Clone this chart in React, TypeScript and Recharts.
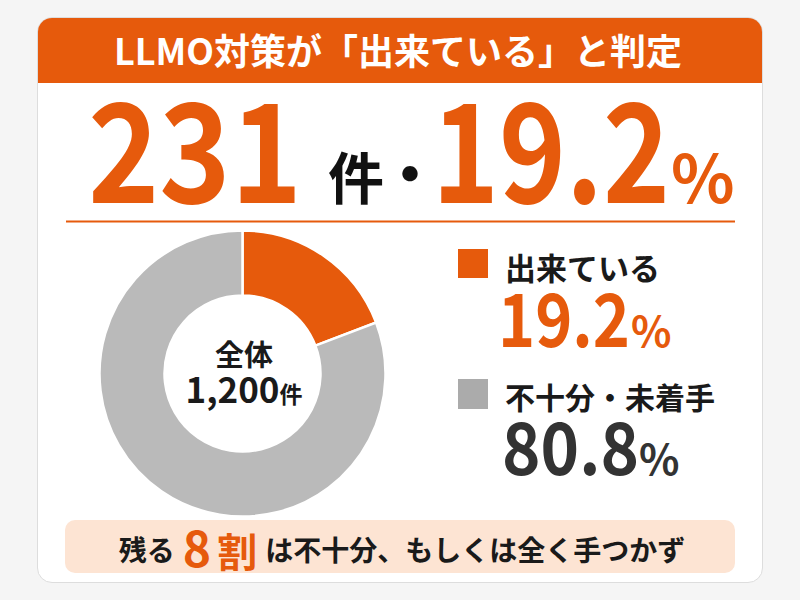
import React from "react";
import { PieChart, Pie, Cell } from "recharts";

const categories = ["出来ている", "不十分・未着手"];
const shares = [19.2, 80.8];
const counts = [231, 969];
const totalCount = 1200;
const colors = ["#E65A0C", "#BABABA"];
const legendColors = ["#E65A0C", "#ABABAB"];
const titleText = "LLMO対策が「出来ている」と判定";
const centerLabel = "全体";
const countUnit = "件";
const footerParts = ["残る", "8", "割", "は不十分、もしくは全く手つかず"];

const pieData = categories.map((name, i) => ({ name, value: shares[i], count: counts[i] }));

const ORANGE = "#E65A0C";
const FONT = "'Noto Sans CJK JP', 'Noto Sans', sans-serif";

export default function App() {
  const fmt = (n: number) => n.toLocaleString("en-US");
  return (
    <div
      style={{
        position: "absolute",
        left: 0,
        top: 0,
        width: 800,
        height: 600,
        background: "#F5F5F5",
        overflow: "hidden",
        fontFamily: FONT,
      }}
    >
      {/* card */}
      <div
        style={{
          position: "absolute",
          left: 37,
          top: 17,
          width: 726,
          height: 566,
          background: "#FFFFFF",
          border: "1px solid #DDDDDD",
          borderRadius: 15,
          boxSizing: "border-box",
          overflow: "hidden",
        }}
      >
        <div
          style={{
            position: "absolute",
            left: 0,
            top: 0,
            width: "100%",
            height: 65,
            background: ORANGE,
          }}
        />
      </div>
      <div style={{ position: "absolute", left: 0, top: 0 }}>
        <PieChart width={800} height={600} margin={{ top: 0, right: 0, bottom: 0, left: 0 }}>
          <Pie
            data={pieData}
            dataKey="value"
            nameKey="name"
            cx={242.5}
            cy={373.5}
            innerRadius={78}
            outerRadius={143}
            startAngle={90}
            endAngle={-270}
            stroke="#FFFFFF"
            strokeWidth={2.5}
            isAnimationActive={false}
          >
            {pieData.map((d, i) => (
              <Cell key={d.name} fill={colors[i]} />
            ))}
          </Pie>
        </PieChart>
      </div>
      <svg
        width={800}
        height={600}
        style={{ position: "absolute", left: 0, top: 0, pointerEvents: "none" }}
        fontFamily={FONT}
        fontWeight={700}
      >
        {/* title */}
        <text x={398} y={49} fill="#FFFFFF" fontSize={36} textAnchor="middle" dominantBaseline="central">
          {titleText}
        </text>

        {/* big numbers */}
        <text x={88} y={203} fill={ORANGE} fontSize={137} textLength={214} lengthAdjust="spacingAndGlyphs">
          {String(counts[0])}
        </text>
        <text x={328} y={174} fill="#111111" fontSize={56} dominantBaseline="central">
          {countUnit}
        </text>
        <text x={410} y={170} fill="#111111" fontSize={60} textAnchor="middle" dominantBaseline="central">
          ・
        </text>
        <text x={432} y={203} fill={ORANGE} fontSize={137} textLength={238} lengthAdjust="spacingAndGlyphs">
          {shares[0].toFixed(1)}
        </text>
        <text x={671} y={203} fill={ORANGE} fontSize={66}>
          %
        </text>
        <line x1={66} x2={735} y1={221.5} y2={221.5} stroke={ORANGE} strokeWidth={2} />

        {/* donut center */}
        <text x={244} y={353} fill="#1A1A1A" fontSize={29} textAnchor="middle" dominantBaseline="central">
          {centerLabel}
        </text>
        <text x={244} y={403} fill="#1A1A1A" fontSize={35} textAnchor="middle">
          {fmt(totalCount)}
          <tspan fontSize={23}>{countUnit}</tspan>
        </text>

        {/* legend */}
        <rect x={458} y={249} width={30} height={29} fill={legendColors[0]} />
        <text x={505} y={266} fill="#1A1A1A" fontSize={31} dominantBaseline="central">
          {categories[0]}
        </text>
        <text x={498} y={347} fill={ORANGE} fontSize={74} textLength={132} lengthAdjust="spacingAndGlyphs">
          {shares[0].toFixed(1)}
        </text>
        <text x={631} y={347} fill={ORANGE} fontSize={42}>
          %
        </text>
        <rect x={458} y={379} width={30} height={30} fill={legendColors[1]} />
        <text x={505} y={396} fill="#1A1A1A" fontSize={30} dominantBaseline="central">
          {categories[1]}
        </text>
        <text x={502} y={475} fill="#333333" fontSize={72} textLength={137} lengthAdjust="spacingAndGlyphs">
          {shares[1].toFixed(1)}
        </text>
        <text x={639} y={475} fill="#333333" fontSize={42}>
          %
        </text>

        {/* footer */}
        <rect x={65} y={520} width={670} height={53} rx={10} fill="#FDE4D3" />
        <text x={402} y={561} fill="#1A1A1A" fontSize={28} textAnchor="middle">
          {footerParts[0]}
          <tspan dx={8} dy={6} fontSize={48} fill={ORANGE}>{footerParts[1]}</tspan>
          <tspan dx={6} fontSize={40} fill={ORANGE}>{footerParts[2]}</tspan>
          <tspan dx={8} dy={-6}>{footerParts[3]}</tspan>
        </text>
      </svg>
    </div>
  );
}
